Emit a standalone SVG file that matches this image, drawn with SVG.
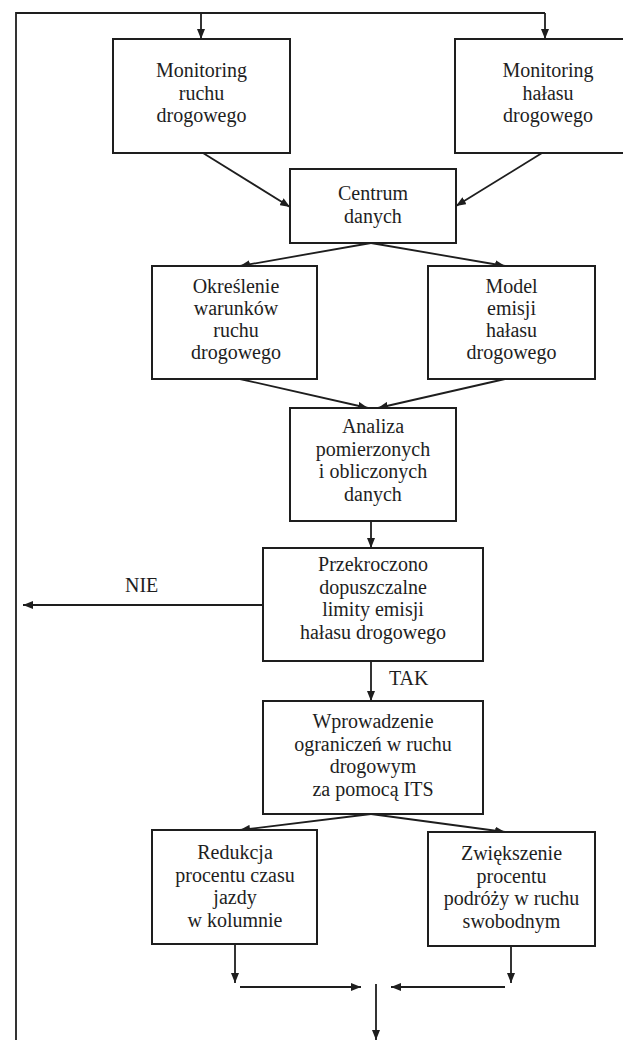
<svg xmlns="http://www.w3.org/2000/svg" width="623" height="1040" viewBox="0 0 623 1040">
<style>
.box{fill:#fff;stroke:#1e1e1e;stroke-width:2}
.ln{fill:none;stroke:#1e1e1e;stroke-width:1.8}
.t{font-family:"Liberation Serif","Times New Roman",serif;font-size:20px;fill:#1e1e1e;text-anchor:middle}
.lbl{font-family:"Liberation Serif","Times New Roman",serif;font-size:20px;fill:#1e1e1e}
</style>
<defs>
<marker id="ah" markerUnits="userSpaceOnUse" markerWidth="10" markerHeight="8" refX="10" refY="4" orient="auto">
<path d="M0,0 L10,4 L0,8 z" fill="#1e1e1e"/>
</marker>
</defs>
<rect width="623" height="1040" fill="#fff"/>
<g id="connectors">
<path class="ln" d="M16,1040 L16,13 L545,13"/>
<path class="ln" d="M201,13 L201,39" marker-end="url(#ah)"/>
<path class="ln" d="M545,13 L545,39" marker-end="url(#ah)"/>
<path class="ln" d="M203,153 L290,207" marker-end="url(#ah)"/>
<path class="ln" d="M542,153 L456,206" marker-end="url(#ah)"/>
<path class="ln" d="M371,243 L240,266" marker-end="url(#ah)"/>
<path class="ln" d="M371,243 L505,266" marker-end="url(#ah)"/>
<path class="ln" d="M240,379 L368,408" marker-end="url(#ah)"/>
<path class="ln" d="M505,379 L378,408" marker-end="url(#ah)"/>
<path class="ln" d="M371,521 L371,548" marker-end="url(#ah)"/>
<path class="ln" d="M263,605 L23,605" marker-end="url(#ah)"/>
<path class="ln" d="M371,661 L371,701" marker-end="url(#ah)"/>
<path class="ln" d="M371,814 L240,830" marker-end="url(#ah)"/>
<path class="ln" d="M371,814 L505,832" marker-end="url(#ah)"/>
<path class="ln" d="M235,944 L235,983" marker-end="url(#ah)"/>
<path class="ln" d="M511,946 L511,983" marker-end="url(#ah)"/>
<path class="ln" d="M240,987 L361,987" marker-end="url(#ah)"/>
<path class="ln" d="M505,987 L391,987" marker-end="url(#ah)"/>
<path class="ln" d="M376,984 L376,1040" marker-end="url(#ah)"/>
<text class="lbl" x="125" y="592">NIE</text>
<text class="lbl" x="389" y="685">TAK</text>
</g>
<g id="n1">
<rect class="box" x="113" y="39" width="177" height="114"/>
<text class="t" x="201.5" y="77">Monitoring</text>
<text class="t" x="201.5" y="99.5">ruchu</text>
<text class="t" x="201.5" y="122">drogowego</text>
</g>
<g id="n2">
<rect class="box" x="455" y="39" width="190" height="114"/>
<text class="t" x="548" y="77">Monitoring</text>
<text class="t" x="548" y="99.5">hałasu</text>
<text class="t" x="548" y="122">drogowego</text>
</g>
<g id="n3">
<rect class="box" x="290" y="169" width="166" height="74"/>
<text class="t" x="373" y="200">Centrum</text>
<text class="t" x="373" y="222.5">danych</text>
</g>
<g id="n4">
<rect class="box" x="152" y="266" width="165" height="113"/>
<text class="t" x="236" y="293">Określenie</text>
<text class="t" x="236" y="315">warunków</text>
<text class="t" x="236" y="337">ruchu</text>
<text class="t" x="236" y="359">drogowego</text>
</g>
<g id="n5">
<rect class="box" x="428" y="266" width="167" height="113"/>
<text class="t" x="511.5" y="293">Model</text>
<text class="t" x="511.5" y="315">emisji</text>
<text class="t" x="511.5" y="337">hałasu</text>
<text class="t" x="511.5" y="359">drogowego</text>
</g>
<g id="n6">
<rect class="box" x="290" y="408" width="166" height="113"/>
<text class="t" x="373" y="433">Analiza</text>
<text class="t" x="373" y="455.5">pomierzonych</text>
<text class="t" x="373" y="478">i obliczonych</text>
<text class="t" x="373" y="500.5">danych</text>
</g>
<g id="n7">
<rect class="box" x="263" y="548" width="220" height="113"/>
<text class="t" x="373" y="571">Przekroczono</text>
<text class="t" x="373" y="593.5">dopuszczalne</text>
<text class="t" x="373" y="616">limity emisji</text>
<text class="t" x="373" y="638.5">hałasu drogowego</text>
</g>
<g id="n8">
<rect class="box" x="263" y="701" width="220" height="113"/>
<text class="t" x="373" y="728">Wprowadzenie</text>
<text class="t" x="373" y="750.5">ograniczeń w ruchu</text>
<text class="t" x="373" y="773">drogowym</text>
<text class="t" x="373" y="795.5">za pomocą ITS</text>
</g>
<g id="n9">
<rect class="box" x="152" y="830" width="165" height="114"/>
<text class="t" x="235" y="859">Redukcja</text>
<text class="t" x="235" y="881.5">procentu czasu</text>
<text class="t" x="235" y="904">jazdy</text>
<text class="t" x="235" y="926.5">w kolumnie</text>
</g>
<g id="n10">
<rect class="box" x="428" y="832" width="167" height="114"/>
<text class="t" x="511.5" y="860">Zwiększenie</text>
<text class="t" x="511.5" y="882.5">procentu</text>
<text class="t" x="511.5" y="905">podróży w ruchu</text>
<text class="t" x="511.5" y="927.5">swobodnym</text>
</g>
</svg>
